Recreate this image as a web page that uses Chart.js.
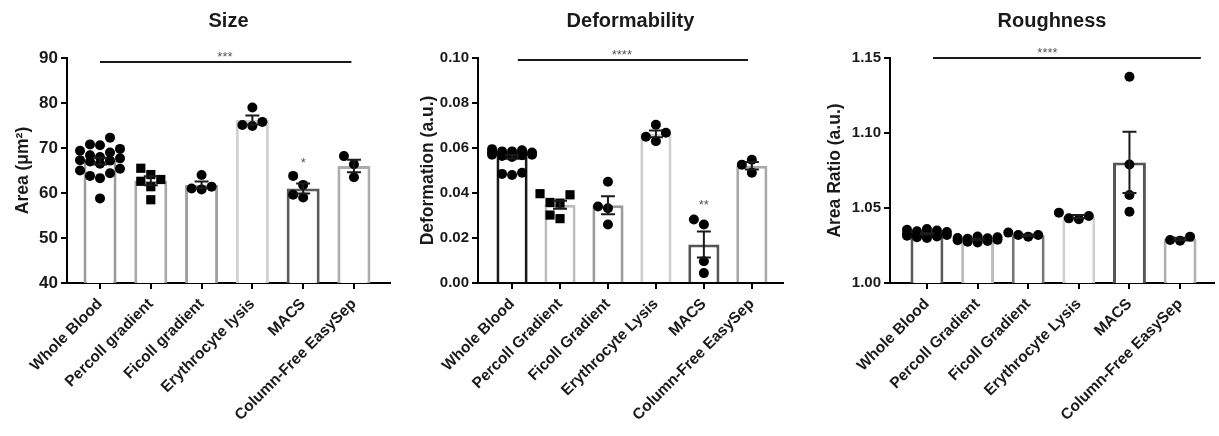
<!DOCTYPE html>
<html>
<head>
<meta charset="utf-8">
<script src="https://cdn.jsdelivr.net/npm/chart.js@4.4.1/dist/chart.umd.min.js"></script>
<style>
    body { margin: 0; background: #fff; width: 1219px; height: 436px; overflow: hidden; position: relative; }
    .panel { position: absolute; top: 0; height: 436px; }
</style>
</head>
<body>
<div class="panel" style="left:0;width:400px"><canvas id="graficaSize"></canvas></div>
<div class="panel" style="left:400px;width:400px"><canvas id="graficaDeform"></canvas></div>
<div class="panel" style="left:800px;width:419px"><canvas id="graficaRough"></canvas></div>
<script>
// categories
const categoriesSize = ['Whole Blood', 'Percoll gradient', 'Ficoll gradient', 'Erythrocyte lysis', 'MACS', 'Column-Free EasySep'];
const categoriesOther = ['Whole Blood', 'Percoll Gradient', 'Ficoll Gradient', 'Erythrocyte Lysis', 'MACS', 'Column-Free EasySep'];

// Size (area, um^2)
const sizeMeans = [67.1, 62.7, 61.8, 76.2, 61.0, 66.0];
const sizeSem = [0.75, 1.0, 0.75, 1.0, 1.1, 1.4];
const sizePoints = [
    [72.3, 70.8, 70.6, 69.8, 69.4, 69.0, 68.4, 68.0, 67.7, 67.3, 67.2, 67.0, 66.5, 65.4, 65.0, 64.4, 63.8, 63.3, 58.8],
    [63.0, 64.1, 65.5, 62.6, 61.4, 58.5],
    [60.8, 64.0, 61.4, 61.0],
    [74.9, 79.0, 75.8, 75.1],
    [61.8, 63.8, 59.0, 59.6],
    [68.2, 66.4, 63.5]
];
const sizeTicks = [40, 90, 10];

// Deformability (a.u.)
const deformMeans = [0.0561, 0.0348, 0.0346, 0.0663, 0.0171, 0.0521];
const deformSem = [0.0008, 0.0018, 0.004, 0.0015, 0.0058, 0.0017];
const deformPoints = [
    [0.0595, 0.059, 0.0585, 0.0585, 0.058, 0.058, 0.0578, 0.0575, 0.0572, 0.057, 0.057, 0.0568, 0.0565, 0.056, 0.049, 0.0485, 0.048],
    [0.0392, 0.0397, 0.0355, 0.0358, 0.0286, 0.0302],
    [0.045, 0.034, 0.0332, 0.026],
    [0.063, 0.0703, 0.0668, 0.065],
    [0.026, 0.0282, 0.0097, 0.0044],
    [0.0548, 0.049, 0.0526]
];
const deformTicks = [0, 0.10, 0.02];

// Roughness (area ratio)
const roughMeans = [1.0328, 1.029, 1.0318, 1.0443, 1.0804, 1.0293];
const roughSem = [0.0005, 0.0004, 0.0006, 0.001, 0.0204, 0.0008];
const roughPoints = [
    [1.036, 1.0355, 1.035, 1.0345, 1.034, 1.0335, 1.033, 1.033, 1.0325, 1.032, 1.032, 1.0315, 1.031, 1.0305, 1.030],
    [1.031, 1.0305, 1.030, 1.0298, 1.0295, 1.029, 1.0288, 1.0285, 1.028, 1.0275, 1.027],
    [1.0309, 1.0336, 1.032, 1.032],
    [1.0425, 1.0469, 1.0431, 1.0447],
    [1.1375, 1.079, 1.0587, 1.0475],
    [1.0287, 1.0309, 1.0282]
];
const roughTicks = [1.00, 1.15, 0.05];

// significance: [from, to, y, label x], label
const sizeSig = [0, 4.95, 89.1, 2.46];
const deformSig = [0.12, 4.92, 0.0991, 2.29];
const roughSig = [0.12, 5.41, 1.15, 2.38];
// single-group stars: [category, y]
const sizeStar = [4, 67.2];
const deformStar = [4, 0.0355];

const FONT = "'Liberation Sans', Arial, sans-serif";
const INK = '#1a1a1a';

// simple beeswarm so points in a column don't pile up
function swarm(values, pxPerUnit, pxPerCat, step) {
    const diam = 10;
    const order = values.map((v, i) => i).sort((a, b) => values[a] - values[b]);
    const placed = [];
    const offs = new Array(values.length);
    const cand = [0, -1, 1, -2, 2];
    order.forEach(i => {
        const py = values[i] * pxPerUnit;
        let best = 0, bestDist = -1;
        for (const k of cand) {
            const px = k * step;
            let dmin = Infinity;
            placed.forEach(p => { dmin = Math.min(dmin, Math.hypot(p[0] - px, p[1] - py)); });
            if (dmin >= diam) { best = k; break; }
            if (dmin > bestDist) { bestDist = dmin; best = k; }
        }
        placed.push([best * step, py]);
        offs[i] = best * step / pxPerCat;
    });
    return offs;
}

function buildChart(canvasId, cfg) {
    const scatter = [];
    const styles = [];
    const radii = [];
    cfg.points.forEach((vals, ci) => {
        const offs = swarm(vals, cfg.pxPerUnit, cfg.pxPerCat, cfg.step);
        vals.forEach((v, j) => {
            scatter.push({ x: ci + offs[j], y: v });
            const sq = cfg.squares.includes(ci);
            styles.push(sq ? 'rect' : 'circle');
            radii.push(sq ? 6.5 : 5);
        });
    });

    const extras = {
        id: 'extras_' + canvasId,
        afterDatasetsDraw(chart) {
            const ctx = chart.ctx;
            const xs = chart.scales.x, ys = chart.scales.y;
            const area = chart.chartArea;
            ctx.save();
            // error bars (SEM)
            ctx.strokeStyle = INK;
            ctx.lineWidth = 2;
            cfg.means.forEach((m, i) => {
                const x = xs.getPixelForValue(i);
                const yt = ys.getPixelForValue(m + cfg.sem[i]);
                const yb = ys.getPixelForValue(m - cfg.sem[i]);
                ctx.beginPath();
                ctx.moveTo(x, yt); ctx.lineTo(x, yb);
                ctx.moveTo(x - 7, yt); ctx.lineTo(x + 7, yt);
                ctx.moveTo(x - 7, yb); ctx.lineTo(x + 7, yb);
                ctx.stroke();
            });
            // significance bar
            const s = cfg.sig;
            const ly = ys.getPixelForValue(s[2]);
            ctx.beginPath();
            ctx.moveTo(xs.getPixelForValue(s[0]), ly);
            ctx.lineTo(xs.getPixelForValue(s[1]), ly);
            ctx.stroke();
            ctx.fillStyle = '#555';
            ctx.font = '13px ' + FONT;
            ctx.textAlign = 'center';
            ctx.textBaseline = 'alphabetic';
            ctx.fillText(cfg.sigLabel, xs.getPixelForValue(s[3]), ly - 1);
            if (cfg.star) {
                ctx.fillText(cfg.starLabel, xs.getPixelForValue(cfg.star[0]), ys.getPixelForValue(cfg.star[1]) + 6);
            }
            // panel title
            ctx.fillStyle = INK;
            ctx.font = 'bold 20px ' + FONT;
            ctx.textBaseline = 'middle';
            ctx.fillText(cfg.title, (area.left + area.right) / 2, 21);
            ctx.restore();
        }
    };

    const axisGrid = { display: true, offset: false, drawOnChartArea: false, drawTicks: true, tickLength: 6, color: '#000', lineWidth: 2 };

    return new Chart(document.getElementById(canvasId), {
        type: 'bar',
        data: {
            datasets: [{
                type: 'scatter',
                data: scatter,
                pointStyle: styles,
                pointRadius: radii,
                backgroundColor: '#000',
                borderColor: '#000',
                borderWidth: 0,
                order: 1
            }, {
                type: 'bar',
                data: cfg.means.map((m, i) => ({ x: i, y: m })),
                backgroundColor: '#ffffff',
                borderColor: cfg.barColors,
                borderWidth: 3,
                borderSkipped: 'start',
                barPercentage: 0.65,
                categoryPercentage: 1,
                order: 2
            }]
        },
        options: {
            responsive: true,
            maintainAspectRatio: false,
            animation: false,
            layout: { padding: { left: 0, right: cfg.padRight, top: 58, bottom: 0 } },
            plugins: { legend: { display: false }, tooltip: { enabled: false }, title: { display: false } },
            scales: {
                x: {
                    type: 'linear',
                    offset: false,
                    min: cfg.xMin,
                    max: cfg.xMax,
                    afterBuildTicks: sc => { sc.ticks = cfg.labels.map((l, i) => ({ value: i })); },
                    afterFit: sc => { sc.height = 153; },
                    grid: axisGrid,
                    border: { display: true, color: '#000', width: 2 },
                    ticks: {
                        autoSkip: false,
                        minRotation: 45,
                        maxRotation: 45,
                        padding: 6,
                        color: INK,
                        font: { family: FONT, size: 15.5, weight: 'bold' },
                        callback: v => cfg.labels[Math.round(v)]
                    }
                },
                y: {
                    min: cfg.yTicks[0],
                    max: cfg.yTicks[1],
                    afterFit: sc => { sc.width = cfg.yWidth; },
                    grid: axisGrid,
                    border: { display: true, color: '#000', width: 2 },
                    ticks: {
                        stepSize: cfg.yTicks[2],
                        padding: 3,
                        color: INK,
                        font: { family: FONT, size: cfg.tickSize, weight: 'bold' },
                        callback: v => cfg.decimals ? Number(v).toFixed(cfg.decimals) : v
                    },
                    title: {
                        display: true,
                        text: cfg.yTitle,
                        color: INK,
                        padding: { top: cfg.titlePad, bottom: 0 },
                        font: { family: FONT, size: 17.5, weight: 'bold' }
                    }
                }
            }
        },
        plugins: [extras]
    });
}

document.addEventListener('DOMContentLoaded', function () {
    buildChart('graficaSize', {
        title: 'Size', yTitle: 'Area (\u03bcm\u00b2)', labels: categoriesSize,
        means: sizeMeans, sem: sizeSem, points: sizePoints, squares: [1],
        yTicks: sizeTicks, decimals: 0, tickSize: 17, yWidth: 67, padRight: 10, titlePad: 12.5,
        xMin: -0.65, xMax: 5.71, pxPerUnit: 4.5, pxPerCat: 50.8, step: 10,
        sig: sizeSig, sigLabel: '***', star: sizeStar, starLabel: '*',
        barColors: ['#9a9a9a', '#a8a8a8', '#a0a0a0', '#d0d0d0', '#5a5a5a', '#acacac']
    });
    buildChart('graficaDeform', {
        title: 'Deformability', yTitle: 'Deformation (a.u.)', labels: categoriesOther,
        means: deformMeans, sem: deformSem, points: deformPoints, squares: [1],
        yTicks: deformTicks, decimals: 2, tickSize: 15, yWidth: 78, padRight: 17, titlePad: 17.5,
        xMin: -0.71, xMax: 5.65, pxPerUnit: 2200, pxPerCat: 48, step: 10,
        sig: deformSig, sigLabel: '****', star: deformStar, starLabel: '**',
        barColors: ['#1a1a1a', '#bdbdbd', '#9a9a9a', '#cfcfcf', '#555555', '#a8a8a8']
    });
    buildChart('graficaRough', {
        title: 'Roughness', yTitle: 'Area Ratio (a.u.)', labels: categoriesOther,
        means: roughMeans, sem: roughSem, points: roughPoints, squares: [],
        yTicks: roughTicks, decimals: 2, tickSize: 15, yWidth: 90, padRight: 4, titlePad: 24.5,
        xMin: -0.73, xMax: 5.67, pxPerUnit: 1500, pxPerCat: 50.8, step: 10,
        sig: roughSig, sigLabel: '****', star: null, starLabel: '',
        barColors: ['#5a5a5a', '#bcbcbc', '#777777', '#d0d0d0', '#555555', '#b0b0b0']
    });
});
</script>
</body>
</html>
